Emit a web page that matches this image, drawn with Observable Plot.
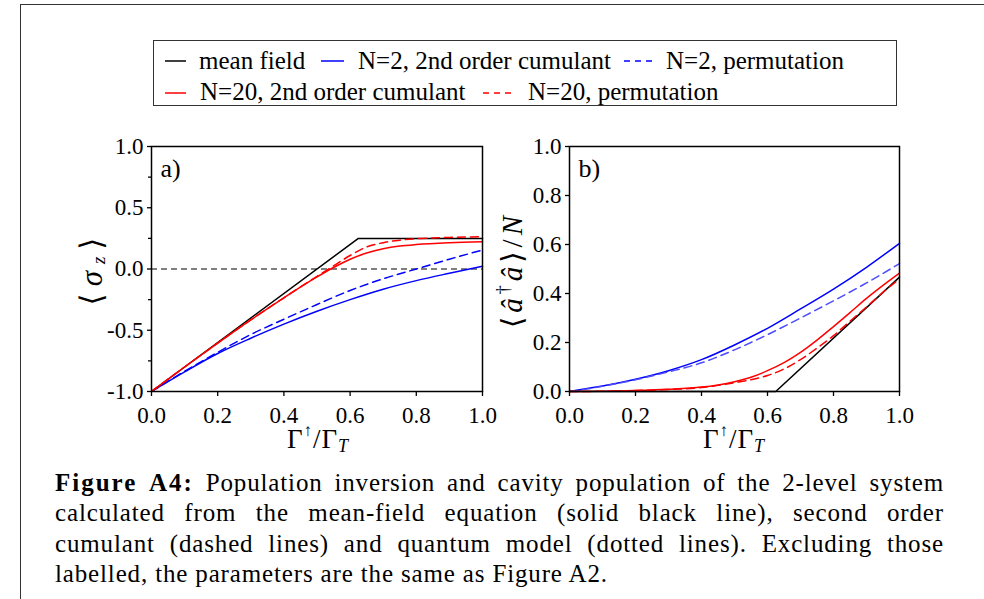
<!DOCTYPE html>
<html><head><meta charset="utf-8">
<script src="https://cdn.jsdelivr.net/npm/d3@7"></script>
<script src="https://cdn.jsdelivr.net/npm/@observablehq/plot@0.6"></script>
<style>
body{margin:0;background:#fff;}
#root{position:relative;width:984px;height:599px;overflow:hidden;background:#fff;font-family:"Liberation Serif","Times New Roman",serif;color:#000;}
#outer{position:absolute;left:20px;top:4px;width:1200px;height:800px;border-left:1.5px solid #333;border-top:1.5px solid #333;}
#legendBox{position:absolute;left:153px;top:40px;width:744px;height:66px;border:1.5px solid #333;box-sizing:border-box;}
.lt{position:absolute;font-size:25px;line-height:25px;white-space:nowrap;transform:translateY(-50%);}
#samples{position:absolute;left:0;top:0;}
#pa{position:absolute;left:60px;top:136px;}
#pb{position:absolute;left:480px;top:136px;}
#cap{position:absolute;left:55px;top:468px;width:889px;font-size:25px;line-height:30.3px;letter-spacing:0.85px;}
#cap b{letter-spacing:2px;}
.cl{text-align:justify;text-align-last:justify;}
.cl.last{text-align:left;text-align-last:left;}
</style>
</head><body>
<div id="root">
  <div id="outer"></div>
  <div id="legendBox"></div>
  <svg id="samples" width="984" height="120"></svg>
  <div class="lt" style="left:199px;top:60px">mean field</div>
  <div class="lt" style="left:358px;top:60px">N=2, 2nd order cumulant</div>
  <div class="lt" style="left:666px;top:60px">N=2, permutation</div>
  <div class="lt" style="left:200px;top:91px">N=20, 2nd order cumulant</div>
  <div class="lt" style="left:528px;top:91px">N=20, permutation</div>
  <div id="pa"></div>
  <div id="pb"></div>
  <div id="cap">
    <div class="cl"><b>Figure A4:</b> Population inversion and cavity population of the 2-level system</div>
    <div class="cl">calculated from the mean-field equation (solid black line), second order</div>
    <div class="cl">cumulant (dashed lines) and quantum model (dotted lines). Excluding those</div>
    <div class="cl last">labelled, the parameters are the same as Figure A2.</div>
  </div>
</div>
<script>
// ---------- data ----------
const xTicks = [0, 0.2, 0.4, 0.6, 0.8, 1.0];
const yTicksA = [-1, -0.5, 0, 0.5, 1];
const yMinorA = [-0.75, -0.25, 0.25, 0.75];
const yTicksB = [0, 0.2, 0.4, 0.6, 0.8, 1.0];

const xGrid = [0, 0.1, 0.2, 0.3, 0.4, 0.5, 0.6, 0.7, 0.8, 0.9, 1.0];

// panel a: <sigma_z>
const meanFieldAx = [0, 0.625, 1.0];
const meanFieldAy = [-1, 0.25, 0.25];
const blueSolidA = [-1, -0.84, -0.69, -0.565, -0.45, -0.345, -0.25, -0.165, -0.095, -0.035, 0.022];
const blueDashA  = [-1, -0.835, -0.68, -0.535, -0.41, -0.29, -0.175, -0.08, 0.0, 0.08, 0.155];
const xRedA = [0, 0.1, 0.2, 0.3, 0.4, 0.5, 0.55, 0.6, 0.65, 0.7, 0.75, 0.8, 0.9, 1.0];
const redSolidA = [-1, -0.8, -0.605, -0.415, -0.235, -0.065, 0.012, 0.08, 0.13, 0.165, 0.187, 0.2, 0.215, 0.223];
const redDashA  = [-1, -0.8, -0.605, -0.415, -0.235, -0.06, 0.025, 0.11, 0.18, 0.215, 0.235, 0.247, 0.258, 0.264];

// panel b: <a^dagger a>/N
const meanFieldBx = [0, 0.625, 1.0];
const meanFieldBy = [0, 0, 0.467];
const blueSolidB = [0, 0.022, 0.05, 0.085, 0.13, 0.19, 0.258, 0.337, 0.418, 0.507, 0.605];
const blueDashB  = [0, 0.021, 0.048, 0.08, 0.117, 0.17, 0.232, 0.3, 0.37, 0.443, 0.522];
const xRedB = [0, 0.1, 0.2, 0.3, 0.4, 0.45, 0.5, 0.55, 0.6, 0.65, 0.7, 0.75, 0.8, 0.85, 0.9, 0.95, 1.0];
const redSolidB = [0, 0.001, 0.004, 0.009, 0.018, 0.027, 0.04, 0.058, 0.085, 0.118, 0.16, 0.21, 0.265, 0.322, 0.38, 0.433, 0.483];
const redDashB  = [0, 0.001, 0.004, 0.008, 0.016, 0.025, 0.036, 0.048, 0.065, 0.092, 0.13, 0.177, 0.228, 0.287, 0.345, 0.405, 0.46];

// ---------- helpers ----------
const ser = (xs, ys) => xs.map((x, i) => ({x, y: ys[i]}));
const fmt = d => d.toFixed(1);
const BLUE = "#0000ff", RED = "#ff0000";
const style = {fontFamily: '"Liberation Serif", "Times New Roman", serif', fontSize: "23px", color: "black", background: "transparent", overflow: "visible"};

function lineMark(data, stroke, dash, extra = {}) {
  return Plot.line(data, Object.assign({x: "x", y: "y", stroke, strokeWidth: 1.5, curve: "monotone-x", strokeDasharray: dash || null}, extra));
}

const plotA = Plot.plot({
  width: 432, height: 325, marginLeft: 91, marginRight: 10, marginTop: 10, marginBottom: 70,
  x: {domain: [0, 1]}, y: {domain: [-1, 1]},
  style,
  marks: [
    Plot.ruleY([0], {stroke: "black", strokeWidth: 1.2, strokeDasharray: "6,4"}),
    lineMark(ser(xGrid, blueSolidA), BLUE),
    lineMark(ser(xGrid, blueDashA), BLUE, "8,5"),
    Plot.line(ser(meanFieldAx, meanFieldAy), {x: "x", y: "y", stroke: "black", strokeWidth: 1.5}),
    lineMark(ser(xRedA, redDashA), RED, "8,5"),
    lineMark(ser(xRedA, redSolidA), RED),
    Plot.frame({stroke: "black", strokeWidth: 1.5}),
    Plot.axisX({ticks: xTicks, tickFormat: fmt, tickSize: 5, tickPadding: 10, label: null, strokeWidth: 1.3}),
    Plot.axisY({ticks: yTicksA, tickFormat: fmt, tickSize: 4, tickPadding: 4, label: null, strokeWidth: 1.3}),
    Plot.axisY({ticks: yMinorA, tickFormat: () => "", tickSize: 3, label: null, strokeWidth: 1.3}),
    Plot.text(["a)"], {frameAnchor: "top-left", dx: 9, dy: 12, fontSize: 26, textAnchor: "start", lineAnchor: "top"})
  ]
});

const plotB = Plot.plot({
  width: 429, height: 325, marginLeft: 89, marginRight: 10, marginTop: 10, marginBottom: 70,
  x: {domain: [0, 1]}, y: {domain: [0, 1]},
  style,
  marks: [
    lineMark(ser(xGrid, blueSolidB), BLUE),
    lineMark(ser(xGrid, blueDashB), "#4d4dff", "8,5"),
    lineMark(ser(xRedB, redSolidB), RED),
    Plot.line(ser(meanFieldBx, meanFieldBy), {x: "x", y: "y", stroke: "black", strokeWidth: 1.5}),
    lineMark(ser(xRedB, redDashB), RED, "8,5"),
    Plot.frame({stroke: "black", strokeWidth: 1.5}),
    Plot.axisX({ticks: xTicks, tickFormat: fmt, tickSize: 5, tickPadding: 10, label: null, strokeWidth: 1.3}),
    Plot.axisY({ticks: yTicksB, tickFormat: fmt, tickSize: 4, tickPadding: 4, label: null, strokeWidth: 1.3}),
    Plot.text(["b)"], {frameAnchor: "top-left", dx: 9, dy: 12, fontSize: 26, textAnchor: "start", lineAnchor: "top"})
  ]
});

document.getElementById("pa").appendChild(plotA);
document.getElementById("pb").appendChild(plotB);

// math labels
function mathLabel(svgNode, x, y, rotate, parts, size, ls) {
  const t = d3.select(svgNode).append("text")
    .attr("transform", `translate(${x},${y}) rotate(${rotate})`)
    .attr("text-anchor", "middle")
    .attr("dominant-baseline", "middle")
    .attr("font-family", '"Liberation Serif", "DejaVu Serif", serif')
    .attr("font-size", size)
    .attr("letter-spacing", ls || 0)
    .attr("fill", "black");
  for (const p of parts) {
    const s = t.append("tspan").text(p.t);
    if (p.size) s.attr("font-size", p.size);
    if (p.dy) s.attr("dy", p.dy);
    if (p.it) s.attr("font-style", "italic");
  }
}
const xLabelParts = [
  {t: "Γ"}, {t: "↑", size: 17, dy: -10}, {t: "/Γ", dy: 10}, {t: "T", it: true, size: 18, dy: 6}
];
mathLabel(plotA, 258, 306, 0, xLabelParts, 27, 1);
mathLabel(plotB, 254, 306, 0, xLabelParts, 27, 1);
mathLabel(plotA, 35, 132, -90, [
  {t: "⟨"}, {t: "σ", it: true}, {t: "z", it: true, size: 19, dy: 6}, {t: "⟩", dy: -6}
], 31, 7);
mathLabel(plotB, 35, 134, -90, [
  {t: "⟨"}, {t: "â", it: true}, {t: "†", size: 18, dy: -10}, {t: "â", it: true, dy: 10}, {t: "⟩/"}, {t: "N", it: true}
], 29, 4);

// legend samples
const sm = d3.select("#samples");
const sample = (x1, x2, y, color, dash) => sm.append("line")
  .attr("x1", x1).attr("x2", x2).attr("y1", y).attr("y2", y)
  .attr("stroke", color).attr("stroke-width", 1.5).attr("stroke-dasharray", dash || null);
sample(165, 186, 61, "black");
sample(321, 344, 61, BLUE);
sample(624, 653, 61, BLUE, "6,5");
sample(165, 186, 93, RED);
sample(483, 516, 93, RED, "6,5");
</script>
</body></html>
